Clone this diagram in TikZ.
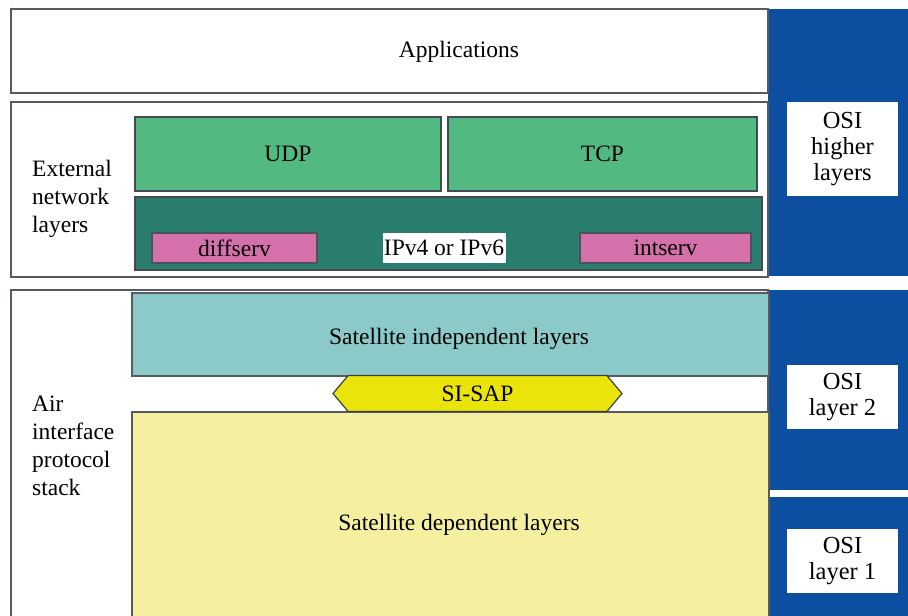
\documentclass[tikz,border=0pt]{standalone}
\usepackage{fontspec}
\setmainfont{Liberation Serif}
\usetikzlibrary{shapes.symbols}
\definecolor{frameline}{RGB}{85,90,100}
\definecolor{osiblue}{RGB}{12,78,160}
\definecolor{udpgreen}{RGB}{82,186,128}
\definecolor{ipteal}{RGB}{42,126,112}
\definecolor{qospink}{RGB}{212,112,170}
\definecolor{sicyan}{RGB}{140,202,202}
\definecolor{sapyellow}{RGB}{234,228,10}
\definecolor{sdyellow}{RGB}{245,240,160}
\tikzset{
  txt/.style={font=\fontsize{23.5}{28}\selectfont, text=black},
  box/.style={anchor=north west, inner sep=0pt, outer sep=0pt, txt},
  framebox/.style={box, draw=frameline, line width=1.6pt, fill=white},
  greenbox/.style={box, draw=frameline!80!black, line width=1.4pt, fill=udpgreen},
  pinkbox/.style={box, draw=frameline!90!black, line width=1.3pt, fill=qospink},
  osibg/.style={box, fill=osiblue},
  osilabel/.style={box, fill=white, align=center, font=\fontsize{24.5}{26}\selectfont},
  sidetext/.style={anchor=north west, inner sep=0pt, align=left, txt},
}
\begin{document}
\begin{tikzpicture}[x=1pt, y=-1pt]
\useasboundingbox[fill=white] (0,0) rectangle (908,616);
% blue OSI column
\node[osibg, minimum width=140pt, minimum height=267pt] (osiA) at (768,9) {};
\node[osibg, minimum width=140pt, minimum height=200pt] (osiB) at (768,290) {};
\node[osibg, minimum width=140pt, minimum height=120pt] (osiC) at (768,497) {};
\node[osilabel, minimum width=111pt, minimum height=94pt] (osiHigh) at (787,102) {OSI\\higher\\layers};
\node[osilabel, minimum width=111pt, minimum height=64pt] (osiL2) at (787,365) {OSI\\layer 2};
\node[osilabel, minimum width=111pt, minimum height=64pt] (osiL1) at (787,529) {OSI\\layer 1};
% Applications
\node[framebox, minimum width=757pt, minimum height=84pt] (apps) at (11,9) {};
\node[txt] (appslbl) at (459,52) {Applications};
% External network layers
\node[framebox, minimum width=757pt, minimum height=175pt] (ext) at (11,102) {};
\node[sidetext] (extlbl) at (32,160) {External\\network\\layers};
\node[greenbox, minimum width=306pt, minimum height=74pt] (udp) at (135,117) {UDP};
\node[greenbox, minimum width=309pt, minimum height=74pt] (tcp) at (448,117) {TCP};
\node[box, draw=frameline!80!black, line width=1.4pt, fill=ipteal, minimum width=627pt, minimum height=73pt] (ip) at (135,197) {};
\node[pinkbox, minimum width=165pt, minimum height=30pt] (diff) at (152,233) {diffserv};
\node[pinkbox, minimum width=171pt, minimum height=30pt] (ints) at (580,233) {intserv};
\node[fill=white, inner sep=0pt, minimum width=123pt, minimum height=30pt, txt] (iplbl) at (444,248) {IPv4 or IPv6};
% Air interface protocol stack
\node[framebox, minimum width=757pt, minimum height=340pt] (air) at (11,290) {};
\node[sidetext] (airlbl) at (32,396) {Air\\interface\\protocol\\stack};
\node[box, draw=frameline, line width=1.2pt, fill=sicyan, minimum width=637pt, minimum height=83pt] (si) at (132,293) {};
\node[txt] (silbl) at (459,339) {Satellite independent layers};
\node[box, draw=frameline, line width=1.2pt, fill=sdyellow, minimum width=637pt, minimum height=210pt] (sd) at (132,412) {};
\node[txt] (sdlbl) at (459,525) {Satellite dependent layers};
\node[draw=frameline!70!black, line width=1.2pt, fill=sapyellow, txt, inner sep=0pt,
      signal, signal to=west and east, signal pointer angle=100,
      minimum width=289pt, minimum height=36pt] (sap) at (477.5,393.5) {SI-SAP};
\end{tikzpicture}
\end{document}
